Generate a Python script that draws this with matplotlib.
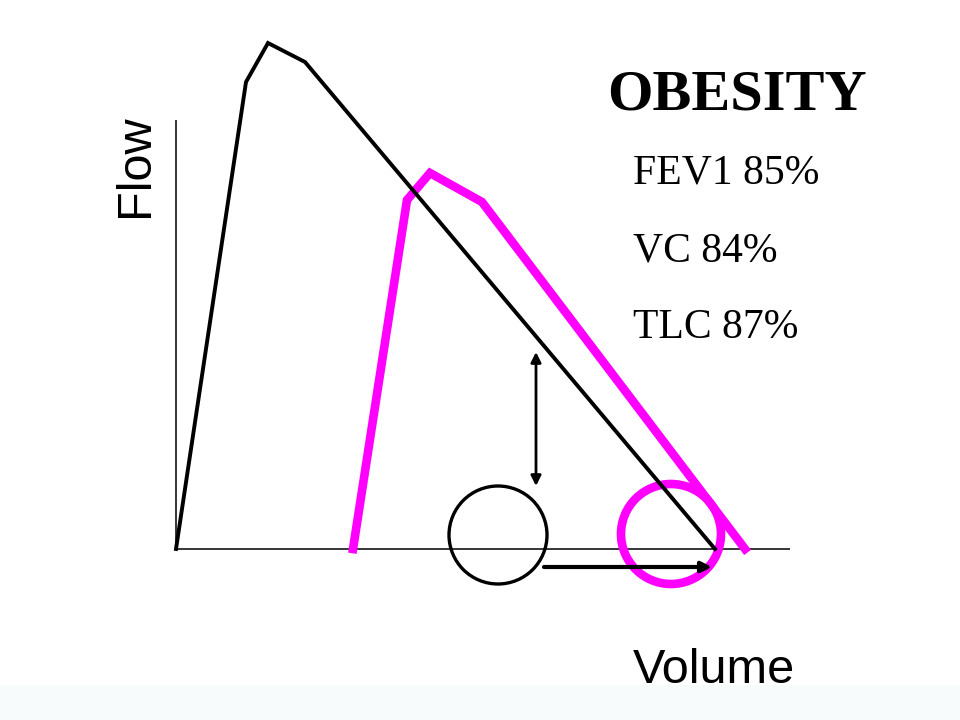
import matplotlib
matplotlib.use("Agg")
import matplotlib.pyplot as plt
from matplotlib.patches import Circle, Rectangle

# Flow-volume curves (volume, flow) in arbitrary units
normal_volume = [0.00, 0.70, 0.92, 1.29, 5.39]
normal_flow = [0.00, 4.67, 5.06, 4.87, 0.00]
obese_volume = [1.77, 2.31, 2.54, 3.06, 5.69]
obese_flow = [0.00, 3.49, 3.76, 3.47, 0.00]

# Circles marking residual volume region
normal_circle = (3.22, 0.14, 0.49)
obese_circle = (4.95, 0.15, 0.50)

# Arrows
vert_arrow_v = 3.60
vert_arrow_f = (1.97, 0.63)
horiz_arrow_f = -0.18
horiz_arrow_v = (3.68, 5.36)

title = "OBESITY"
stats = ["FEV1 85%", "VC 84%", "TLC 87%"]
x_label = "Volume"
y_label = "Flow"

fig = plt.figure(figsize=(9.6, 7.2), dpi=100)
ax = fig.add_axes([0, 0, 1, 1])
ax.set_xlim(-1.76, 7.84)
ax.set_ylim(-1.71, 5.49)
ax.axis("off")

# faint bottom band
ax.add_patch(Rectangle((-1.76, -1.71), 9.6, 0.35, facecolor="#f7fbfb", edgecolor="none", zorder=0))

# axes lines
ax.plot([0, 0], [0, 4.29], color="black", lw=1.1, solid_capstyle="butt")
ax.plot([0, 6.14], [0, 0], color="black", lw=1.1, solid_capstyle="butt")

ax.plot(normal_volume, normal_flow, color="black", lw=2.8, solid_joinstyle="miter", zorder=3)
ax.plot(obese_volume, obese_flow, color="#ff00ff", lw=6.2, solid_joinstyle="miter", zorder=2)

cx, cy, r = normal_circle
ax.add_patch(Circle((cx, cy), r, fill=False, edgecolor="black", lw=2.4, zorder=3))
cx, cy, r = obese_circle
ax.add_patch(Circle((cx, cy), r, fill=False, edgecolor="#ff00ff", lw=6.2, zorder=2))

ax.annotate("", xy=(vert_arrow_v, vert_arrow_f[1]), xytext=(vert_arrow_v, vert_arrow_f[0]),
            arrowprops=dict(arrowstyle="<|-|>", color="black", lw=2, mutation_scale=15,
                            shrinkA=0, shrinkB=0), zorder=4)
ax.annotate("", xy=(horiz_arrow_v[1], horiz_arrow_f), xytext=(horiz_arrow_v[0], horiz_arrow_f),
            arrowprops=dict(arrowstyle="-|>", color="black", lw=3, mutation_scale=15,
                            shrinkA=0, shrinkB=0), zorder=4)

fig.text(607 / 960, 1 - 109 / 720, title, fontsize=42, fontweight="bold",
         family="Liberation Serif", ha="left", va="baseline")
for i, s in enumerate(stats):
    yb = [183.5, 262, 338.5][i]
    fig.text(633 / 960, 1 - yb / 720, s, fontsize=30, family="Liberation Serif",
             ha="left", va="baseline")

fig.text(633 / 960, 1 - 683 / 720, x_label, fontsize=35, family="Liberation Sans",
         ha="left", va="baseline")
fig.text(135 / 960, 1 - 166 / 720, y_label, fontsize=35, family="Liberation Sans",
         rotation=90, ha="center", va="center")

fig.savefig("out.png", dpi=100)
